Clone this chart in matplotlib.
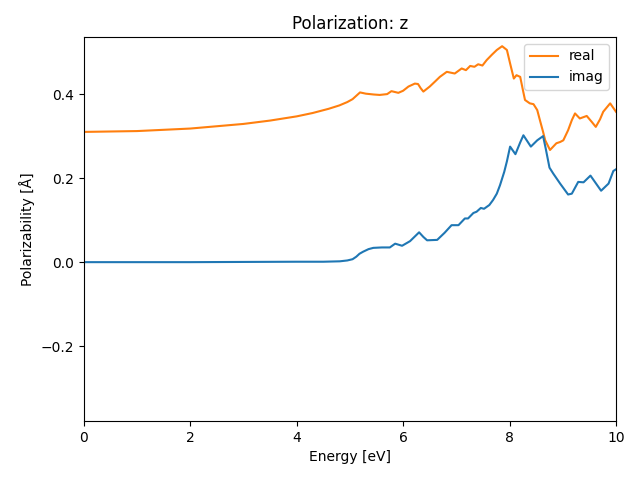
import matplotlib.pyplot as plt

# energy grid (eV) and polarizability (Angstrom^3)
x_real = [0.0, 1.0, 2.0, 3.0, 3.5, 4.0, 4.3, 4.6, 4.8, 4.95, 5.05, 5.12, 5.19, 5.3,
          5.45, 5.56, 5.7, 5.78, 5.91, 6.0, 6.1, 6.22, 6.28, 6.33, 6.38, 6.5, 6.6, 6.69,
          6.82, 6.97, 7.1, 7.18, 7.26, 7.34, 7.41, 7.49, 7.57, 7.67, 7.76, 7.86, 7.95,
          8.01, 8.08, 8.13, 8.2, 8.25, 8.29, 8.38, 8.45, 8.52, 8.57, 8.63, 8.67, 8.76,
          8.82, 8.88, 8.95, 9.01, 9.1, 9.17, 9.23, 9.32, 9.45, 9.55, 9.62, 9.7, 9.76,
          9.89, 10.0]
y_real = [0.310, 0.312, 0.318, 0.329, 0.337, 0.347, 0.355, 0.365, 0.373, 0.381, 0.388,
          0.396, 0.404, 0.401, 0.399, 0.398, 0.400, 0.407, 0.403, 0.408, 0.418, 0.425,
          0.424, 0.414, 0.406, 0.418, 0.430, 0.441, 0.453, 0.449, 0.461, 0.457, 0.467,
          0.465, 0.471, 0.468, 0.481, 0.494, 0.505, 0.514, 0.505, 0.473, 0.437, 0.445,
          0.441, 0.410, 0.386, 0.378, 0.376, 0.362, 0.338, 0.310, 0.290, 0.267, 0.275,
          0.283, 0.286, 0.290, 0.314, 0.338, 0.354, 0.342, 0.348, 0.333, 0.322, 0.340,
          0.358, 0.378, 0.358]

x_imag = [0.0, 2.0, 4.0, 4.5, 4.81, 4.95, 5.05, 5.12, 5.18, 5.25, 5.35, 5.44, 5.6, 5.75,
          5.85, 5.98, 6.13, 6.3, 6.38, 6.45, 6.64, 6.78, 6.91, 7.04, 7.16, 7.22, 7.32,
          7.38, 7.46, 7.52, 7.62, 7.69, 7.76, 7.82, 7.9, 7.95, 8.01, 8.11, 8.2, 8.26,
          8.4, 8.52, 8.63, 8.68, 8.75, 8.82, 8.95, 9.1, 9.17, 9.29, 9.39, 9.52, 9.62,
          9.72, 9.86, 9.95, 10.0]
y_imag = [0.000, 0.000, 0.001, 0.001, 0.002, 0.004, 0.007, 0.013, 0.020, 0.025, 0.031,
          0.034, 0.035, 0.035, 0.044, 0.039, 0.050, 0.071, 0.060, 0.052, 0.053, 0.070,
          0.088, 0.088, 0.104, 0.104, 0.117, 0.120, 0.129, 0.127, 0.136, 0.148, 0.163,
          0.183, 0.215, 0.240, 0.275, 0.257, 0.285, 0.302, 0.275, 0.290, 0.300, 0.270,
          0.225, 0.211, 0.187, 0.161, 0.163, 0.191, 0.190, 0.206, 0.188, 0.170, 0.187,
          0.217, 0.221]

fig, ax = plt.subplots(figsize=(6.4, 4.8), dpi=100)
ax.plot(x_real, y_real, color='C1', label='real')
ax.plot(x_imag, y_imag, color='C0', label='imag')
ax.set_xlim(0, 10)
ax.set_ylim(-0.378, 0.536)
ax.set_xlabel('Energy [eV]')
ax.set_ylabel('Polarizability [Å]')
ax.set_title('Polarization: z')
ax.legend(loc='upper right')
fig.subplots_adjust(left=0.131, right=0.9625, top=0.923, bottom=0.123)
fig.savefig('out.png')
